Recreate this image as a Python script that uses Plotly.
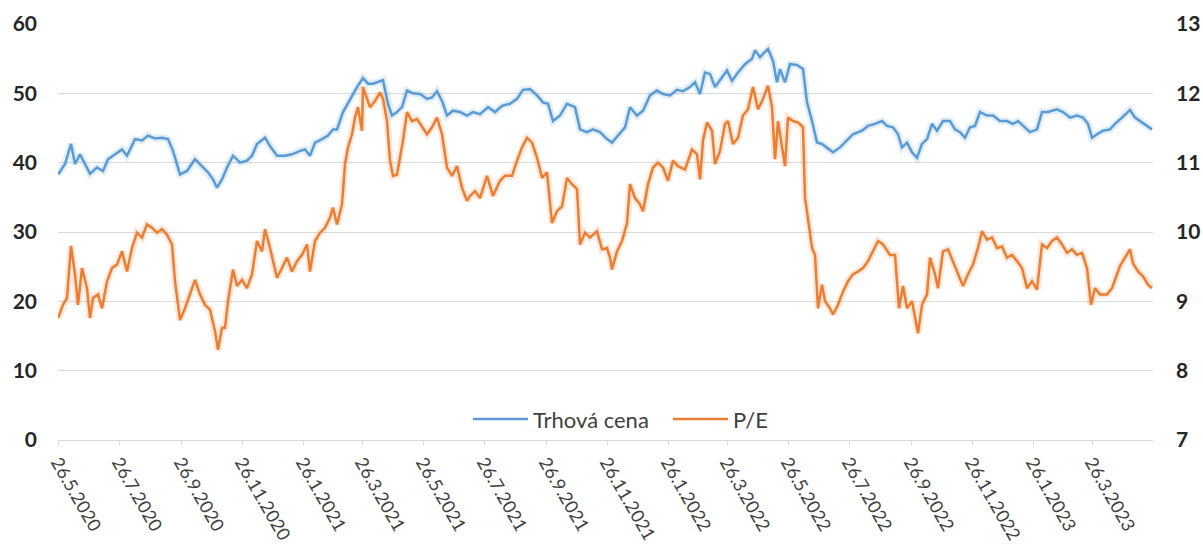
import plotly.graph_objects as go

# ---------------- data ----------------
price_dates = [
    "2020-05-26", "2020-06-02", "2020-06-08", "2020-06-12", "2020-06-17", "2020-06-22", "2020-06-27",
    "2020-07-04", "2020-07-10", "2020-07-15", "2020-07-22", "2020-07-29", "2020-08-03", "2020-08-11",
    "2020-08-18", "2020-08-24", "2020-08-31", "2020-09-07", "2020-09-13", "2020-09-18", "2020-09-25",
    "2020-10-02", "2020-10-10", "2020-10-17", "2020-10-23", "2020-10-28", "2020-11-01", "2020-11-06",
    "2020-11-11", "2020-11-17", "2020-11-24", "2020-12-01", "2020-12-06", "2020-12-11", "2020-12-19",
    "2020-12-24", "2020-12-31", "2021-01-08", "2021-01-15", "2021-01-23", "2021-01-28", "2021-02-02",
    "2021-02-07", "2021-02-14", "2021-02-20", "2021-02-25",
    "2021-03-01", "2021-03-07", "2021-03-14", "2021-03-21", "2021-03-27", "2021-04-01", "2021-04-06",
    "2021-04-11", "2021-04-16", "2021-04-21", "2021-04-25", "2021-04-30", "2021-05-05", "2021-05-10",
    "2021-05-16", "2021-05-23", "2021-05-30", "2021-06-04", "2021-06-09", "2021-06-14", "2021-06-19",
    "2021-06-25", "2021-07-02", "2021-07-09", "2021-07-15", "2021-07-22", "2021-07-30", "2021-08-06",
    "2021-08-13", "2021-08-21", "2021-08-28", "2021-09-03", "2021-09-10", "2021-09-17", "2021-09-23",
    "2021-09-28", "2021-10-03", "2021-10-10", "2021-10-17", "2021-10-25", "2021-10-30", "2021-11-06",
    "2021-11-12", "2021-11-19", "2021-11-26",
    "2021-12-01", "2021-12-07", "2021-12-14", "2021-12-19", "2021-12-26", "2022-01-01", "2022-01-08",
    "2022-01-15", "2022-01-21", "2022-01-28", "2022-02-04", "2022-02-10", "2022-02-17", "2022-02-22",
    "2022-02-27", "2022-03-04", "2022-03-09", "2022-03-14", "2022-03-21", "2022-03-26", "2022-03-31",
    "2022-04-06", "2022-04-13", "2022-04-20", "2022-04-23", "2022-04-28", "2022-05-01", "2022-05-06",
    "2022-05-11", "2022-05-15", "2022-05-18", "2022-05-23", "2022-05-28", "2022-06-04", "2022-06-10",
    "2022-06-14", "2022-06-19", "2022-06-24", "2022-06-29", "2022-07-04", "2022-07-10", "2022-07-17",
    "2022-07-24", "2022-07-30", "2022-08-08", "2022-08-14", "2022-08-21", "2022-08-28",
    "2022-09-02", "2022-09-08", "2022-09-13", "2022-09-17", "2022-09-22", "2022-09-27", "2022-10-02",
    "2022-10-07", "2022-10-12", "2022-10-17", "2022-10-22", "2022-10-28", "2022-11-04", "2022-11-09",
    "2022-11-14", "2022-11-19", "2022-11-24", "2022-11-29", "2022-12-04", "2022-12-11", "2022-12-17",
    "2022-12-24", "2022-12-31", "2023-01-06", "2023-01-11", "2023-01-18", "2023-01-23", "2023-01-30",
    "2023-02-04", "2023-02-10", "2023-02-19", "2023-02-25", "2023-03-04", "2023-03-11", "2023-03-17",
    "2023-03-22", "2023-03-26", "2023-03-31", "2023-04-06", "2023-04-13", "2023-04-18", "2023-04-25",
    "2023-05-03", "2023-05-08", "2023-05-13", "2023-05-20", "2023-05-25",
]
price_values = [
    38.3, 39.8, 42.7, 39.8, 41.2, 39.8, 38.4,
    39.3, 38.8, 40.5, 41.2, 41.9, 41.0, 43.4,
    43.2, 43.9, 43.5, 43.6, 43.4, 41.7, 38.3,
    38.8, 40.5, 39.5, 38.6, 37.6, 36.4, 37.6,
    39.3, 41.0, 40.0, 40.3, 41.0, 42.7, 43.6,
    42.4, 41.0, 41.0, 41.2, 41.7, 41.9, 41.0,
    42.9, 43.4, 43.9, 44.8,
    44.8, 47.3, 49.2, 50.9, 52.2, 51.4, 51.4,
    51.6, 51.9, 48.5, 46.8, 47.3, 48.0, 50.4,
    50.0, 49.9, 49.2, 49.4, 50.3, 48.9, 46.8,
    47.5, 47.3, 46.8, 47.3, 47.0, 48.0, 47.3,
    48.2, 48.5, 49.2, 50.5, 50.6, 49.7, 48.7,
    48.5, 46.0, 46.8, 48.5, 48.0, 44.8, 44.4,
    44.8, 44.4, 43.4,
    42.9, 43.9, 45.1, 48.0, 46.8, 47.5, 49.7,
    50.4, 49.9, 49.7, 50.5, 50.3, 50.9, 51.6,
    49.9, 53.0, 52.8, 50.9, 52.3, 53.3, 51.8,
    53.0, 54.2, 55.0, 56.2, 55.2, 55.7, 56.4,
    54.7, 51.6, 53.5, 51.6, 54.2, 54.1, 53.5,
    48.7, 46.0, 42.9, 42.7, 42.2, 41.5, 42.2,
    43.2, 44.1, 44.6, 45.3, 45.6, 46.0,
    45.3, 45.1, 44.1, 42.2, 42.9, 41.5, 40.7,
    42.7, 43.4, 45.6, 44.6, 46.0, 46.0, 44.8,
    44.4, 43.6, 45.1, 45.3, 47.3, 46.8, 46.8,
    46.0, 46.0, 45.6, 46.0, 45.1, 44.4, 44.8,
    47.3, 47.3, 47.7, 47.3, 46.5, 46.8, 46.5,
    45.6, 43.6, 44.1, 44.6, 44.8, 45.6, 46.5,
    47.6, 46.5, 46.0, 45.3, 44.8,
]

pe_dates = [
    "2020-05-26", "2020-05-31", "2020-06-04", "2020-06-08", "2020-06-12", "2020-06-15", "2020-06-19",
    "2020-06-24", "2020-06-27", "2020-06-30", "2020-07-05", "2020-07-09", "2020-07-14", "2020-07-19",
    "2020-07-24", "2020-07-29", "2020-08-03", "2020-08-08", "2020-08-13", "2020-08-18", "2020-08-23",
    "2020-08-28", "2020-09-02", "2020-09-07", "2020-09-12", "2020-09-17", "2020-09-20", "2020-09-25",
    "2020-09-30", "2020-10-05", "2020-10-10", "2020-10-15", "2020-10-20", "2020-10-25", "2020-10-30",
    "2020-11-02", "2020-11-06", "2020-11-09", "2020-11-12", "2020-11-17", "2020-11-21", "2020-11-26",
    "2020-12-01", "2020-12-06", "2020-12-11", "2020-12-16", "2020-12-19", "2020-12-24", "2020-12-31",
    "2021-01-05", "2021-01-10", "2021-01-15", "2021-01-20", "2021-01-25", "2021-01-30", "2021-02-02",
    "2021-02-07", "2021-02-12", "2021-02-17", "2021-02-22", "2021-02-25",
    "2021-03-01", "2021-03-06", "2021-03-09", "2021-03-12", "2021-03-16", "2021-03-19", "2021-03-22",
    "2021-03-26", "2021-03-27", "2021-03-31", "2021-04-03", "2021-04-08", "2021-04-13", "2021-04-16",
    "2021-04-20", "2021-04-23", "2021-04-26", "2021-04-30", "2021-05-03", "2021-05-06", "2021-05-10",
    "2021-05-15", "2021-05-20", "2021-05-25", "2021-05-30", "2021-06-04", "2021-06-09", "2021-06-14",
    "2021-06-19", "2021-06-24", "2021-06-29", "2021-07-04", "2021-07-09", "2021-07-12", "2021-07-17",
    "2021-07-22", "2021-07-29", "2021-08-04", "2021-08-11", "2021-08-16", "2021-08-23", "2021-08-28",
    "2021-09-02", "2021-09-07", "2021-09-12", "2021-09-17", "2021-09-22", "2021-09-27", "2021-10-02",
    "2021-10-07", "2021-10-12", "2021-10-17", "2021-10-22", "2021-10-27", "2021-10-30", "2021-11-04",
    "2021-11-09", "2021-11-16", "2021-11-21", "2021-11-26", "2021-11-29",
    "2021-12-01", "2021-12-06", "2021-12-11", "2021-12-16", "2021-12-19", "2021-12-24", "2021-12-29",
    "2022-01-01", "2022-01-06", "2022-01-11", "2022-01-16", "2022-01-21", "2022-01-26", "2022-01-31",
    "2022-02-05", "2022-02-12", "2022-02-19", "2022-02-24", "2022-02-27", "2022-03-02", "2022-03-06",
    "2022-03-11", "2022-03-14", "2022-03-19", "2022-03-24", "2022-03-27", "2022-04-01", "2022-04-06",
    "2022-04-11", "2022-04-16", "2022-04-21", "2022-04-26", "2022-05-01", "2022-05-06", "2022-05-10",
    "2022-05-13", "2022-05-16", "2022-05-20", "2022-05-23", "2022-05-26", "2022-05-31", "2022-06-05",
    "2022-06-10", "2022-06-12", "2022-06-15", "2022-06-19", "2022-06-22", "2022-06-25", "2022-06-29",
    "2022-07-02", "2022-07-07", "2022-07-10", "2022-07-15", "2022-07-20", "2022-07-25", "2022-07-30",
    "2022-08-04", "2022-08-09", "2022-08-14", "2022-08-19", "2022-08-24", "2022-08-29",
    "2022-09-05", "2022-09-10", "2022-09-14", "2022-09-18", "2022-09-22", "2022-09-27", "2022-09-30",
    "2022-10-03", "2022-10-07", "2022-10-12", "2022-10-15", "2022-10-20", "2022-10-23", "2022-10-28",
    "2022-11-02", "2022-11-07", "2022-11-12", "2022-11-17", "2022-11-22", "2022-11-27", "2022-12-02",
    "2022-12-06", "2022-12-11", "2022-12-16", "2022-12-21", "2022-12-26", "2022-12-31", "2023-01-05",
    "2023-01-10", "2023-01-15", "2023-01-20", "2023-01-25", "2023-01-30", "2023-02-04", "2023-02-09",
    "2023-02-14", "2023-02-19", "2023-02-24", "2023-03-01", "2023-03-06", "2023-03-11", "2023-03-16",
    "2023-03-21", "2023-03-25", "2023-03-29", "2023-04-03", "2023-04-10", "2023-04-15", "2023-04-20",
    "2023-04-23", "2023-04-28", "2023-05-03", "2023-05-06", "2023-05-11", "2023-05-16", "2023-05-21",
    "2023-05-25",
]
pe_values = [
    8.76, 8.95, 9.05, 9.80, 9.39, 8.95, 9.48,
    9.19, 8.76, 9.05, 9.10, 8.90, 9.29, 9.48,
    9.53, 9.72, 9.43, 9.77, 9.99, 9.92, 10.11,
    10.06, 9.99, 10.04, 9.96, 9.82, 9.29, 8.73,
    8.90, 9.10, 9.31, 9.10, 8.95, 8.88, 8.57,
    8.30, 8.62, 8.62, 9.00, 9.46, 9.22, 9.31,
    9.19, 9.39, 9.87, 9.72, 10.04, 9.77, 9.34,
    9.48, 9.63, 9.43, 9.58, 9.67, 9.82, 9.43,
    9.87, 9.99, 10.06, 10.21, 10.35,
    10.11, 10.40, 10.98, 11.22, 11.41, 11.65, 11.80,
    11.46, 12.09, 11.92, 11.80, 11.89, 12.01, 11.92,
    11.60, 11.03, 10.81, 10.83, 11.07, 11.32, 11.73,
    11.60, 11.63, 11.51, 11.41, 11.51, 11.65, 11.41,
    10.93, 10.81, 10.95, 10.64, 10.45, 10.52, 10.59,
    10.49, 10.81, 10.52, 10.74, 10.81, 10.81, 11.03,
    11.22, 11.36, 11.29, 11.07, 10.78, 10.86, 10.13,
    10.30, 10.37, 10.78, 10.69, 10.62, 9.82, 9.99,
    9.92, 10.01, 9.75, 9.77, 9.63,
    9.46, 9.72, 9.87, 10.13, 10.69, 10.49, 10.40,
    10.30, 10.69, 10.93, 11.00, 10.93, 10.74, 11.03,
    10.95, 10.90, 11.19, 11.12, 10.76, 11.32, 11.58,
    11.46, 10.98, 11.17, 11.56, 11.60, 11.27, 11.36,
    11.68, 11.77, 12.09, 11.77, 11.92, 12.11, 11.80,
    11.05, 11.60, 11.24, 10.95, 11.65, 11.60, 11.58,
    11.51, 10.50, 10.16, 9.77, 9.67, 8.90, 9.24,
    9.00, 8.90, 8.81, 8.95, 9.14, 9.29, 9.39,
    9.43, 9.48, 9.58, 9.72, 9.87, 9.82,
    9.67, 9.67, 8.90, 9.22, 8.90, 9.00, 8.76,
    8.54, 8.95, 9.10, 9.63, 9.39, 9.19, 9.72,
    9.75, 9.58, 9.39, 9.22, 9.39, 9.53, 9.77,
    10.01, 9.89, 9.92, 9.77, 9.79, 9.63, 9.67,
    9.58, 9.48, 9.19, 9.29, 9.17, 9.82, 9.77,
    9.87, 9.92, 9.82, 9.70, 9.75, 9.67, 9.70,
    9.48, 8.95, 9.19, 9.10, 9.10, 9.19, 9.39,
    9.51, 9.63, 9.75, 9.55, 9.43, 9.36, 9.24,
    9.19,
]

tick_dates = [
    "2020-05-26", "2020-07-26", "2020-09-26", "2020-11-26", "2021-01-26", "2021-03-26",
    "2021-05-26", "2021-07-26", "2021-09-26", "2021-11-26", "2022-01-26", "2022-03-26",
    "2022-05-26", "2022-07-26", "2022-09-26", "2022-11-26", "2023-01-26", "2023-03-26",
]
tick_labels = [
    "26.5.2020", "26.7.2020", "26.9.2020", "26.11.2020", "26.1.2021", "26.3.2021",
    "26.5.2021", "26.7.2021", "26.9.2021", "26.11.2021", "26.1.2022", "26.3.2022",
    "26.5.2022", "26.7.2022", "26.9.2022", "26.11.2022", "26.1.2023", "26.3.2023",
]

series_names = ["Trhová cena", "P/E"]
BLUE = "#5B9BD5"
ORANGE = "#ED7D31"
FONT = "Lato"
TXT = "#404040"

fig = go.Figure()

# soft glow (Excel-like shadow) under the lines
fig.add_trace(go.Scatter(x=price_dates, y=price_values, mode="lines",
                         line=dict(color="rgba(91,155,213,0.18)", width=7),
                         hoverinfo="skip", showlegend=False, yaxis="y"))
fig.add_trace(go.Scatter(x=pe_dates, y=pe_values, mode="lines",
                         line=dict(color="rgba(237,125,49,0.18)", width=7),
                         hoverinfo="skip", showlegend=False, yaxis="y2"))

fig.add_trace(go.Scatter(x=price_dates, y=price_values, mode="lines", name=series_names[0],
                         line=dict(color=BLUE, width=2.5), yaxis="y"))
fig.add_trace(go.Scatter(x=pe_dates, y=pe_values, mode="lines", name=series_names[1],
                         line=dict(color=ORANGE, width=2.5), yaxis="y2"))

fig.update_layout(
    width=1203, height=547,
    margin=dict(l=58, r=50, t=24, b=107),
    paper_bgcolor="white", plot_bgcolor="white",
    font=dict(family=FONT, size=18, color=TXT),
    xaxis=dict(
        type="date", automargin=False,
        range=["2020-05-26", "2023-05-26"],
        tickmode="array", tickvals=tick_dates, ticktext=tick_labels,
        tickangle=60, tickfont=dict(family=FONT, size=18, color=TXT),
        showgrid=False, zeroline=False,
        showline=True, linecolor="#d9d9d9", linewidth=1,
        ticks="outside", ticklen=4, tickcolor="#d9d9d9",
    ),
    yaxis=dict(
        automargin=False,
        range=[0, 60], dtick=10, tick0=0,
        showgrid=True, gridcolor="#d9d9d9", gridwidth=1,
        zeroline=False, showline=False,
        tickfont=dict(family=FONT, size=21, color="#262626", weight="bold"),
        ticklabelstandoff=20,
    ),
    yaxis2=dict(
        automargin=False,
        range=[7, 13], dtick=1, tick0=7,
        overlaying="y", side="right",
        showgrid=False, zeroline=False, showline=False,
        tickfont=dict(family=FONT, size=21, color="#262626", weight="bold"),
        ticklabelstandoff=22,
    ),
    legend=dict(
        orientation="h", x=(468 - 58) / 1095, xanchor="left", y=0.05, yanchor="middle",
        bgcolor="rgba(0,0,0,0)", font=dict(family=FONT, size=22, color=TXT),
        itemwidth=55, tracegroupgap=0,
        entrywidth=130, entrywidthmode="pixels",
    ),
    showlegend=True,
)

fig.write_html(
    "out.html",
    config={"displayModeBar": False},
    post_script="document.body.style.margin='0px'; document.body.style.overflow='hidden';",
)
